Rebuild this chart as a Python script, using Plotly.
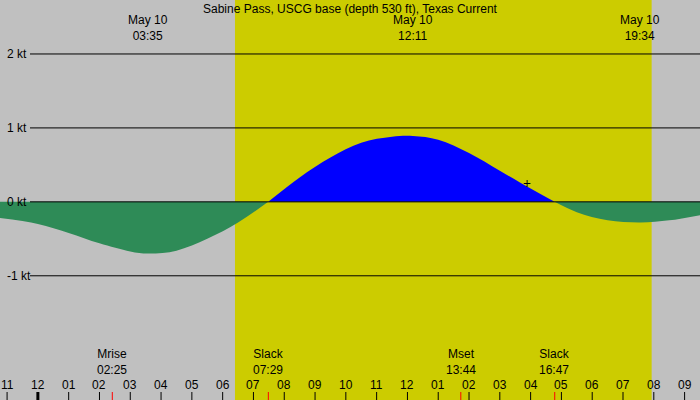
import plotly.graph_objects as go

times = [-1.23, 0, 1, 2, 3, 3.58, 4.5, 5.5, 6.5, 7.48, 8.5, 9.5, 10.5, 11.5, 12.18, 13, 14, 15, 16, 16.78, 17.5, 18.5, 19.57, 20.5, 21.5]
speed = [-0.22, -0.3, -0.42, -0.56, -0.67, -0.70, -0.66, -0.5, -0.28, 0, 0.33, 0.6, 0.8, 0.88, 0.89, 0.84, 0.66, 0.42, 0.18, 0, -0.14, -0.25, -0.28, -0.25, -0.18]
grid_kt = [2, 1, 0, -1]
hour_labels = ["11", "12", "01", "02", "03", "04", "05", "06", "07", "08", "09", "10", "11", "12",
               "01", "02", "03", "04", "05", "06", "07", "08", "09"]
hour_pos = list(range(-1, 22))
events = [(2.4167, "Mrise<br>02:25"), (7.483, "Slack<br>07:29"), (13.733, "Mset<br>13:44"), (16.783, "Slack<br>16:47")]
peaks = [(3.583, "May 10<br>03:35"), (12.183, "May 10<br>12:11"), (19.567, "May 10<br>19:34")]
day_start, day_end = 6.4, 19.93
marker = (15.88, 0.22)

font = dict(family="Liberation Sans", size=12, color="black")
fig = go.Figure()
# split the curve into segments between zero crossings
segs, cur = [], [0]
for i in range(1, len(speed)):
    cur.append(i)
    if speed[i] == 0 and i != len(speed) - 1:
        segs.append(cur)
        cur = [i]
segs.append(cur)
for seg in segs:
    xs = [times[i] for i in seg]
    ys = [speed[i] for i in seg]
    col = "#0000FF" if sum(ys) > 0 else "#2E8B57"
    fig.add_trace(go.Scatter(x=xs, y=ys, mode="lines", line=dict(color=col, width=0, shape="spline", smoothing=1),
                             fill="tozeroy", fillcolor=col))
fig.add_trace(go.Scatter(x=[marker[0]], y=[marker[1]], mode="text", text=["+"], textfont=dict(size=14, color="black")))

shapes = [dict(type="rect", xref="x", yref="paper", x0=day_start, x1=day_end, y0=0, y1=1,
               fillcolor="#CCCC00", line=dict(width=0), layer="below")]
anns = []
for k in grid_kt:
    shapes.append(dict(type="line", xref="paper", yref="y", x0=30/700, x1=1, y0=k, y1=k, line=dict(color="black", width=1)))
    anns.append(dict(xref="paper", yref="y", x=5/700, y=k, text=f"{k} kt", showarrow=False, xanchor="left", font=font))
for h, lab in zip(hour_pos, hour_labels):
    anns.append(dict(xref="x", yref="paper", x=h, y=15/400, text=lab, showarrow=False, yanchor="middle", font=font))
    shapes.append(dict(type="line", xref="x", yref="paper", x0=h, x1=h, y0=0, y1=8/400,
                       line=dict(color="black", width=3 if h == 0 else 1)))
for t, lab in events:
    anns.append(dict(xref="x", yref="paper", x=t, y=21/400, text=lab, showarrow=False, yanchor="bottom", font=font))
    shapes.append(dict(type="line", xref="x", yref="paper", x0=t, x1=t, y0=0, y1=8/400, line=dict(color="red", width=1)))
for t, lab in peaks:
    anns.append(dict(xref="x", yref="paper", x=t, y=1-11/400, text=lab, showarrow=False, yanchor="top", font=font))
anns.append(dict(xref="paper", yref="paper", x=0.5, y=1, text="Sabine Pass, USCG base (depth 530 ft), Texas Current",
                 showarrow=False, yanchor="top", font=font))

fig.update_layout(width=700, height=400, margin=dict(l=0, r=0, t=0, b=0), showlegend=False,
                  paper_bgcolor="#C0C0C0", plot_bgcolor="#C0C0C0", shapes=shapes, annotations=anns,
                  xaxis=dict(range=[-1.23, 21.5], visible=False, fixedrange=True),
                  yaxis=dict(range=[-2.68, 2.73], visible=False, fixedrange=True))
fig.write_html("out.html", config={"displayModeBar": False})
with open("out.html") as f:
    html = f.read()
html = html.replace("<body>", '<body style="margin:0;padding:0;overflow:hidden">', 1)
with open("out.html", "w") as f:
    f.write(html)
